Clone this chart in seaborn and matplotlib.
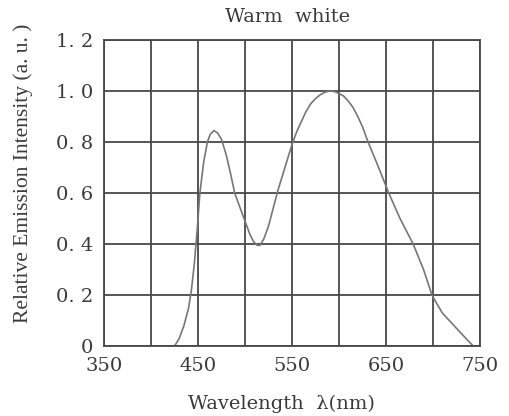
import matplotlib
matplotlib.use("Agg")
import matplotlib.pyplot as plt
import seaborn as sns
import pandas as pd

# spectrum
wavelength = [425, 430, 435, 440, 443, 446, 449, 452, 456, 460, 463, 467, 471,
              475, 480, 485, 489, 493, 497, 501, 505, 509, 513, 516, 520, 525,
              530, 535, 540, 545, 550, 555, 560, 565, 570, 575, 580, 585, 590,
              595, 600, 605, 610, 615, 620, 625, 631, 640, 653, 665, 679, 690,
              699, 702, 710, 720, 730, 743]
intensity = [0.0, 0.03, 0.08, 0.15, 0.22, 0.32, 0.45, 0.6, 0.72, 0.8, 0.83,
             0.845, 0.835, 0.81, 0.75, 0.67, 0.6, 0.56, 0.52, 0.48, 0.44, 0.41,
             0.395, 0.395, 0.42, 0.47, 0.54, 0.61, 0.67, 0.73, 0.79, 0.84, 0.88,
             0.92, 0.95, 0.97, 0.985, 0.995, 1.0, 0.998, 0.99, 0.98, 0.96,
             0.935, 0.9, 0.86, 0.8, 0.72, 0.6, 0.5, 0.4, 0.3, 0.2, 0.18, 0.13,
             0.09, 0.05, 0.0]
x_ticks = [350, 450, 550, 650, 750]
y_ticks = [0, 0.2, 0.4, 0.6, 0.8, 1.0, 1.2]
y_labels = ["0", "0. 2", "0. 4", "0. 6", "0. 8", "1. 0", "1. 2"]

df = pd.DataFrame({"wl": wavelength, "val": intensity})

sns.set_style("white")
plt.rcParams["font.family"] = ["DejaVu Serif"]

fig = plt.figure(figsize=(5.1, 4.16), dpi=100)
ax = fig.add_axes([0.204, 0.168, 0.737, 0.736])

sns.lineplot(data=df, x="wl", y="val", ax=ax, color="#777777", linewidth=1.2)

ax.set_xlim(350, 750)
ax.set_ylim(0, 1.2)
ax.set_xticks(range(350, 751, 50), minor=True)
ax.set_xticks(x_ticks)
ax.set_yticks(y_ticks)
ax.set_yticklabels(y_labels)
ax.grid(True, which="both", color="#484848", linewidth=1.3)
ax.set_axisbelow(True)
ax.tick_params(length=0, labelsize=14, colors="#3a3a3a", pad=8)
ax.tick_params(which="minor", length=0)
for s in ax.spines.values():
    s.set_color("#484848")
    s.set_linewidth(1.3)

ax.set_title("Warm  white", fontsize=14, color="#3a3a3a", pad=13, x=0.489)
ax.set_xlabel("Wavelength  λ(nm)", fontsize=14, color="#3a3a3a")
ax.xaxis.set_label_coords(0.473, -0.158)
ax.set_ylabel("Relative Emission Intensity (a. u. )", fontsize=15.5,
              family="Liberation Serif", color="#3a3a3a")
ax.yaxis.set_label_coords(-0.189, 0.565)

fig.savefig("out.png", dpi=100)
